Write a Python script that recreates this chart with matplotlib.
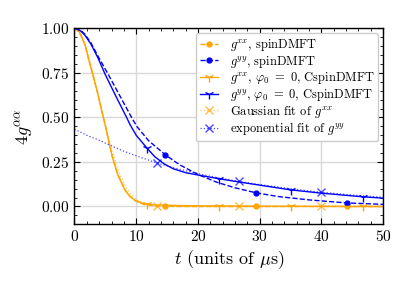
import matplotlib
matplotlib.use("Agg")
import matplotlib.pyplot as plt

t_xx_spin = [0, 0.8, 1.7, 2.2, 2.9, 3.8, 4.2, 4.7, 5.0, 5.65, 6.2, 7.0, 8.2, 9.0, 9.8, 11.2, 13, 14.7, 20, 29.4, 40, 44.1, 50]
g_xx_spin = [1.0, 0.98, 0.91, 0.84, 0.75, 0.63, 0.57, 0.497, 0.456, 0.35, 0.27, 0.18, 0.092, 0.057, 0.033, 0.012, 0.004, 0.001, 0, 0, 0, 0, 0]
marks_spin = [14.7, 29.4, 44.1]

t_yy_spin = [0, 1, 1.7, 2.7, 3.8, 5.5, 7.3, 9.3, 10.1, 12, 14.7, 17, 20, 23, 26, 29.4, 33, 38, 44.1, 50]
g_yy_spin = [1.0, 0.99, 0.967, 0.917, 0.845, 0.74, 0.625, 0.497, 0.45, 0.37, 0.291, 0.235, 0.18, 0.137, 0.105, 0.077, 0.056, 0.037, 0.02, 0.012]

t_xx_c = [0, 0.8, 1.7, 2.2, 2.9, 3.8, 4.2, 4.7, 5.0, 5.65, 6.2, 7.0, 8.2, 9.0, 9.8, 11.2, 11.7, 13, 16, 20, 23.4, 30, 35.1, 40, 46.8, 50]
g_xx_c = [1.0, 0.98, 0.91, 0.84, 0.75, 0.63, 0.57, 0.497, 0.456, 0.35, 0.27, 0.18, 0.09, 0.056, 0.034, 0.016, 0.013, 0.009, 0.006, 0.004, 0.003, 0.002, 0.001, 0.001, 0.0, 0.0]
marks_c = [11.7, 23.4, 35.1, 46.8]

t_yy_c = [0, 0.5, 1, 1.7, 2.7, 3.8, 5.0, 6.7, 8.45, 9.0, 10, 11.7, 13, 14.5, 16, 18, 20.3, 23.4, 26.6, 30, 35.1, 40, 46.8, 50]
g_yy_c = [1.0, 0.996, 0.986, 0.962, 0.91, 0.835, 0.74, 0.62, 0.50, 0.46, 0.40, 0.33, 0.28, 0.24, 0.212, 0.19, 0.175, 0.156, 0.138, 0.12, 0.093, 0.075, 0.054, 0.047]

t_gauss = [0, 1, 2, 3, 4, 5, 6, 7, 8, 9, 10, 11, 12, 13.3, 16, 20, 26.6, 39.9, 50]
g_gauss = [1.0, 0.97, 0.88, 0.75, 0.60, 0.45, 0.32, 0.21, 0.13, 0.075, 0.041, 0.021, 0.010, 0.004, 0.0, 0, 0, 0, 0]

t_exp = [0, 2, 4, 5.5, 8, 10, 13.3, 16, 20, 23.4, 26.6, 30, 35, 39.9, 45, 50]
g_exp = [0.434, 0.40, 0.372, 0.348, 0.31, 0.285, 0.245, 0.218, 0.185, 0.16, 0.141, 0.123, 0.10, 0.080, 0.065, 0.052]
marks_fit = [13.3, 26.6, 39.9]


def idx(ts, marks):
    return [ts.index(m) for m in marks]


plt.rcParams["font.family"] = ["cmr10", "DejaVu Serif"]
plt.rcParams["mathtext.fontset"] = "cm"
plt.rcParams["axes.formatter.use_mathtext"] = True
plt.rcParams["axes.unicode_minus"] = False

fig = plt.figure(figsize=(4.15, 2.95), dpi=100)
ax = fig.add_axes([0.1795, 0.2397, 0.7435, 0.6637])

ax.plot(t_xx_spin, g_xx_spin, "--", color="orange", lw=1.0, marker="o", ms=3.5,
        markevery=idx(t_xx_spin, marks_spin), label=r"$g^{xx}$, spinDMFT")
ax.plot(t_yy_spin, g_yy_spin, "--", color="blue", lw=1.0, marker="o", ms=3.5,
        markevery=idx(t_yy_spin, marks_spin), label=r"$g^{yy}$, spinDMFT")
ax.plot(t_xx_c, g_xx_c, "-", color="orange", lw=1.0, marker="1", ms=7, mew=1.0,
        markevery=idx(t_xx_c, marks_c), label=r"$g^{xx}$, $\varphi_0\ =\ 0$, CspinDMFT")
ax.plot(t_yy_c, g_yy_c, "-", color="blue", lw=1.0, marker="1", ms=7, mew=1.0,
        markevery=idx(t_yy_c, marks_c), label=r"$g^{yy}$, $\varphi_0\ =\ 0$, CspinDMFT")
ax.plot(t_gauss, g_gauss, ":", color="orange", lw=0.9, alpha=0.7, marker="x", ms=6, mew=1.0,
        markevery=idx(t_gauss, marks_fit), label=r"Gaussian fit of $g^{xx}$")
ax.plot(t_exp, g_exp, ":", color="blue", lw=0.9, alpha=0.7, marker="x", ms=6, mew=1.0,
        markevery=idx(t_exp, marks_fit), label=r"exponential fit of $g^{yy}$")

ax.set_xlim(0, 50)
ax.set_ylim(-0.1, 1.0)
ax.set_xticks([0, 10, 20, 30, 40, 50])
ax.set_yticks([0, 0.25, 0.5, 0.75, 1.0])
ax.set_xticks(range(0, 51, 2), minor=True)
ax.set_yticks([i * 0.05 - 0.1 for i in range(23)], minor=True)
ax.tick_params(which="both", direction="in", top=True, right=True, labelsize=11)
ax.tick_params(which="major", length=4, width=0.8)
ax.tick_params(which="minor", length=2, width=0.6)
ax.grid(True, which="major", color="#d9d9d9", lw=1.0)
ax.set_axisbelow(True)
for s in ax.spines.values():
    s.set_linewidth(1.0)

ax.set_xlabel(r"$t$ (units of $\mu$s)", fontsize=13, labelpad=3)
ax.set_ylabel(r"$4g^{\alpha\alpha}$", fontsize=13, labelpad=4)

leg = ax.legend(loc="upper right", fontsize=9, handlelength=1.5, handletextpad=0.9,
                labelspacing=0.05, borderpad=0.3, borderaxespad=0.4, numpoints=1,
                framealpha=1.0, edgecolor="#cccccc")

fig.savefig("out.png", dpi=100)
